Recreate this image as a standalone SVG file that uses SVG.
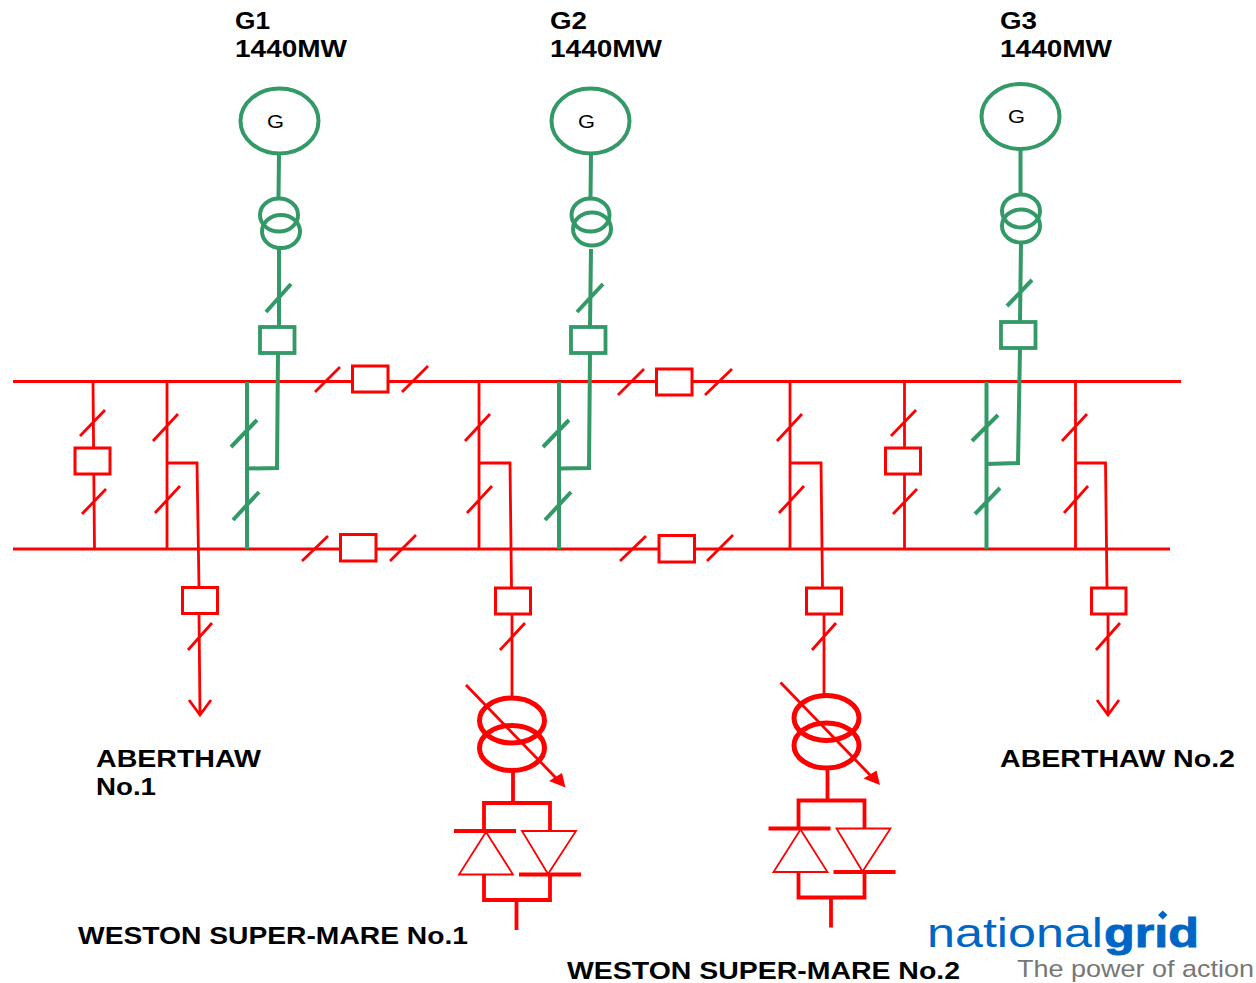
<svg xmlns="http://www.w3.org/2000/svg" width="1256" height="983" viewBox="0 0 1256 983">
<style>
.r,.rt,.g,.gt{fill:none;stroke-linejoin:miter}
.r{stroke:#f00;stroke-width:2.8}
.rt{stroke:#f00;stroke-width:3.8}
.g{stroke:#339966;stroke-width:4}
.box{fill:#fff;stroke:#f00;stroke-width:3}
.gbox{fill:#fff;stroke:#339966;stroke-width:3.8}
.tx{fill:none;stroke:#f00;stroke-width:5}
.tri{fill:none;stroke:#f00;stroke-width:1.8}
.bar{fill:none;stroke:#f00;stroke-width:3.8}
text{font-family:"Liberation Sans",Arial,sans-serif}
.lab{font-weight:700;font-size:24px;fill:#000}
.gl{font-size:18px;fill:#000}
.logo{font-size:41px;fill:#0066c6}
.tag{font-size:24px;fill:#777}
</style>
<defs>
<g id="rect">
<path class="rt" d="M513 772V803M484 831V803H550V831M484 875V900H550V875M516.500 900V930"/>
<path class="bar" d="M454 831H516M519 874.500H581"/>
<path class="tri" d="M486 832L459 874.500H513ZM522 831H576L548 874Z"/>
</g>
<g id="xfmr">
<ellipse class="tx" cx="512" cy="720.500" rx="32.500" ry="22.500"/>
<ellipse class="tx" cx="512" cy="748" rx="32.500" ry="22.500"/>
<path class="r" d="M466 685L556 778"/>
<path d="M565.500 787.500L549 781L562 773Z" fill="#f00"/>
</g>
</defs>
<g id="connectors">
<path class="r" d="M13 381.500H1181M13 549H1170"/>
<path class="r" d="M315 392L340 367M402 392L428 366M302 561L328 536M390 561L416 535M618 395L644 369M705 395L732 369M620 561L646 536M707 561L733 535"/>
<path class="r" d="M93 382L94.500 549M80 436L105 410M82 514L106 489"/>
<path class="r" d="M167 382V549M153 441L178 414M155 513L180 486M167 463H197L199 587M199 614L200 715M188 650L212 623M189 700L200 715L211 700"/>
<path class="r" d="M479 382V549M465 441L490 414M467 513L492 486M479 463H510L511.500 588M512 614V697M500 650L525 623"/>
<path class="r" d="M790 382V549M777 441L802 414M779 513L804 486M790 463H821L822.500 588M824 614V695M812 650L836 623"/>
<path class="r" d="M904.500 382V549M891 436L916 410M893 514L917 489"/>
<path class="r" d="M1075.500 382V549M1062 441L1087 414M1064 513L1088 486M1075 463H1105.500L1107 588M1108 614V715M1096 650L1120 623M1097 700L1108 715L1119 700"/>
<path class="g" d="M279 154L278.500 198M279 249V327M266 312L291 284M278 353L277 468L247 468.500M247 382V549M231 447L257 420M233 520L259 492"/>
<path class="g" d="M591 154L590.500 198M591 249L590 327M577 312L603 284M590 353L589 468L559 468.500M559 382V549M543 447L569 420M545 520L571 492"/>
<path class="g" d="M1020.500 149V194M1021 243L1020 322M1007 306L1032 280M1020 348L1018 463L987 464M986.500 382V549M972 441L998 415M975 514L1000 488"/>
</g>
<g id="breakers">
<rect class="box" x="352.500" y="366" width="35.500" height="26"/>
<rect class="box" x="340.500" y="534.500" width="35.500" height="26.500"/>
<rect class="box" x="656.500" y="369" width="35.500" height="26"/>
<rect class="box" x="659" y="535.500" width="35.500" height="26.500"/>
<rect class="box" x="75" y="448" width="35" height="26"/>
<rect class="box" x="182.500" y="587.500" width="35" height="26"/>
<rect class="box" x="495.500" y="588" width="35" height="26"/>
<rect class="box" x="806.500" y="588" width="35" height="26"/>
<rect class="box" x="885.500" y="448" width="35" height="26"/>
<rect class="box" x="1091.500" y="588" width="34.500" height="26"/>
<rect class="gbox" x="260" y="327" width="34.500" height="26"/>
<rect class="gbox" x="571" y="327" width="34.500" height="26"/>
<rect class="gbox" x="1001" y="322" width="34.500" height="26"/>
</g>
<g id="G1">
<ellipse class="g" cx="279.500" cy="121" rx="39" ry="32.500"/>
<ellipse class="g" cx="279" cy="215" rx="19" ry="16.500"/>
<ellipse class="g" cx="281" cy="231.500" rx="19" ry="16.500"/>
<text class="gl" x="267" y="128" textLength="17" lengthAdjust="spacingAndGlyphs">G</text>
<text class="lab" x="235" y="29" textLength="35" lengthAdjust="spacingAndGlyphs">G1</text>
<text class="lab" x="235" y="57" textLength="112" lengthAdjust="spacingAndGlyphs">1440MW</text>
</g>
<g id="G2">
<ellipse class="g" cx="590.500" cy="121" rx="39" ry="32.500"/>
<ellipse class="g" cx="590.500" cy="215" rx="19" ry="16.500"/>
<ellipse class="g" cx="592" cy="229" rx="19" ry="16.500"/>
<text class="gl" x="578" y="128" textLength="17" lengthAdjust="spacingAndGlyphs">G</text>
<text class="lab" x="550" y="29" textLength="37" lengthAdjust="spacingAndGlyphs">G2</text>
<text class="lab" x="550" y="57" textLength="112" lengthAdjust="spacingAndGlyphs">1440MW</text>
</g>
<g id="G3">
<ellipse class="g" cx="1020.500" cy="116.500" rx="39" ry="32.500"/>
<ellipse class="g" cx="1021" cy="211" rx="19" ry="16.500"/>
<ellipse class="g" cx="1021" cy="226" rx="19" ry="16.500"/>
<text class="gl" x="1008" y="123" textLength="17" lengthAdjust="spacingAndGlyphs">G</text>
<text class="lab" x="1000" y="29" textLength="37" lengthAdjust="spacingAndGlyphs">G3</text>
<text class="lab" x="1000" y="57" textLength="112" lengthAdjust="spacingAndGlyphs">1440MW</text>
</g>
<g id="WSM1">
<use href="#xfmr"/>
<use href="#rect"/>
<text class="lab" x="78" y="944" textLength="390" lengthAdjust="spacingAndGlyphs">WESTON SUPER-MARE No.1</text>
</g>
<g id="WSM2">
<use href="#xfmr" transform="translate(314.500 -2.500)"/>
<use href="#rect" transform="translate(314.500 -2.500)"/>
<text class="lab" x="567" y="979" textLength="393" lengthAdjust="spacingAndGlyphs">WESTON SUPER-MARE No.2</text>
</g>
<g id="ABERTHAW1">
<text class="lab" x="96" y="767" textLength="165" lengthAdjust="spacingAndGlyphs">ABERTHAW</text>
<text class="lab" x="96" y="795" textLength="60" lengthAdjust="spacingAndGlyphs">No.1</text>
</g>
<g id="ABERTHAW2">
<text class="lab" x="1000" y="767" textLength="235" lengthAdjust="spacingAndGlyphs">ABERTHAW No.2</text>
</g>
<g id="logo">
<text class="logo" x="927" y="947" textLength="176" lengthAdjust="spacingAndGlyphs">national</text>
<text class="logo" x="1104" y="947" textLength="95" lengthAdjust="spacingAndGlyphs" font-weight="700" stroke="#0066c6" stroke-width="0.9">grid</text>
<rect x="1155" y="913" width="15" height="11.500" fill="#fff"/>
<polygon points="1162.700,910.500 1167.500,915 1162.700,919.500 1158,915" fill="#0066c6"/>
<text class="tag" x="1017" y="977" textLength="237" lengthAdjust="spacingAndGlyphs">The power of action</text>
</g>
</svg>
